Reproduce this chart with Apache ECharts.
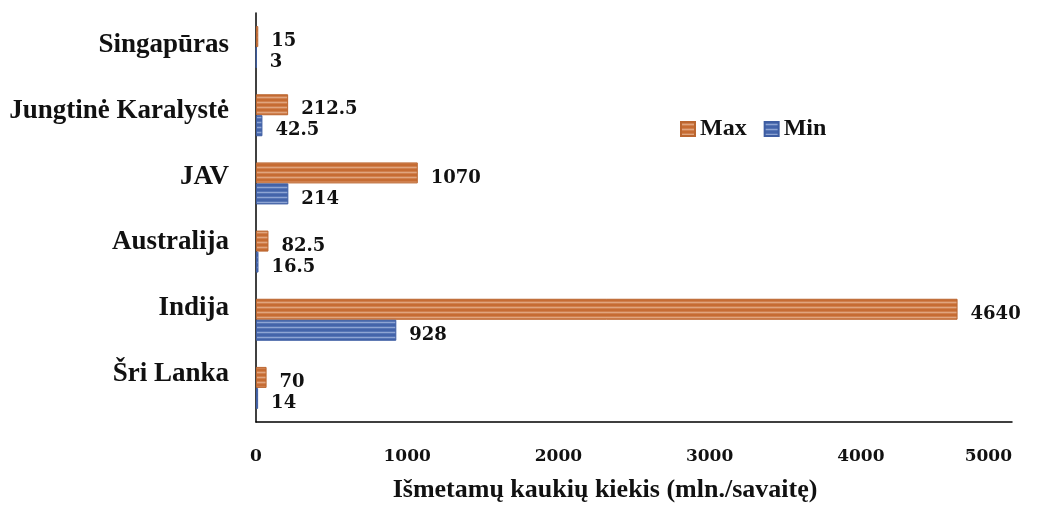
<!DOCTYPE html>
<html>
<head>
<meta charset="utf-8">
<script src="https://cdn.jsdelivr.net/npm/echarts@6/dist/echarts.min.js"></script>
<style>
  html, body { margin: 0; padding: 0; background: #fff; }
  #chart { width: 1042px; height: 509px; }
</style>
</head>
<body>
<div id="chart"></div>
<script>
// Weekly discarded masks by country (millions per week)
const countries = ['Singapūras', 'Jungtinė Karalystė', 'JAV', 'Australija', 'Indija', 'Šri Lanka'];
const maxValues = [15, 212.5, 1070, 82.5, 4640, 70];
const minValues = [3, 42.5, 214, 16.5, 928, 14];
const seriesNames = ['Max', 'Min'];
const axisTitle = 'Išmetamų kaukių kiekis (mln./savaitę)';

// Softly striped fill used for the bars and legend swatches
function stripes(base, mid, light) {
  const c = document.createElement('canvas');
  c.width = 4; c.height = 5;
  const ctx = c.getContext('2d');
  ctx.fillStyle = base;
  ctx.fillRect(0, 0, 4, 5);
  ctx.fillStyle = mid;
  ctx.fillRect(0, 1, 4, 1);
  ctx.fillRect(0, 3, 4, 1);
  ctx.fillStyle = light;
  ctx.fillRect(0, 2, 4, 1);
  return { image: c, repeat: 'repeat' };
}
const orangeFill = stripes('#C66C33', '#D0804E', '#E0A57E');
const blueFill = stripes('#4464AA', '#5675B5', '#8EA4D3');

const valueLabel = {
  show: true,
  position: 'right',
  distance: 13,
  offset: [0, 5],
  fontFamily: 'DejaVu Serif',
  fontWeight: 'bold',
  fontSize: 18,
  color: '#111'
};

const chart = echarts.init(document.getElementById('chart'), null, { renderer: 'canvas' });
chart.setOption({
  backgroundColor: '#fff',
  animation: false,
  legend: {
    data: seriesNames,
    left: 680,
    top: 117,
    padding: 0,
    itemWidth: 14,
    itemHeight: 14,
    itemGap: 17,
    icon: 'rect',
    textStyle: { fontFamily: 'Liberation Serif', fontWeight: 'bold', fontSize: 24, color: '#111' }
  },
  grid: [
    { left: 256, right: 30, top: 13, height: 409 },
    { left: 256, right: 30, top: 12, height: 395 }
  ],
  xAxis: [
    {
      type: 'value',
      gridIndex: 0,
      min: 0,
      max: 5000,
      interval: 1000,
      splitLine: { show: false },
      axisLine: { show: true, lineStyle: { color: '#000', width: 1.5 } },
      axisTick: { show: false },
      axisLabel: {
        margin: 26,
        alignMaxLabel: 'right',
        formatter: function (v) { return String(v); },
        fontFamily: 'DejaVu Serif',
        fontWeight: 'bold',
        fontSize: 17,
        color: '#111'
      },
      name: axisTitle,
      nameLocation: 'middle',
      nameGap: 55,
      nameTextStyle: {
        fontFamily: 'Liberation Serif',
        fontWeight: 'bold',
        fontSize: 26,
        color: '#111',
        padding: [0, 58, 0, 0]
      }
    },
    { type: 'value', gridIndex: 1, show: false }
  ],
  yAxis: [
    {
      type: 'category',
      gridIndex: 0,
      data: countries,
      inverse: true,
      axisLine: { show: true, lineStyle: { color: '#000', width: 1.5 } },
      axisTick: { show: false },
      axisLabel: { show: false }
    },
    {
      type: 'category',
      gridIndex: 1,
      data: countries,
      inverse: true,
      axisLine: { show: false },
      axisTick: { show: false },
      axisLabel: {
        margin: 27,
        fontFamily: 'Liberation Serif',
        fontWeight: 'bold',
        fontSize: 27,
        color: '#111'
      }
    }
  ],
  series: [
    {
      name: seriesNames[0],
      type: 'bar',
      xAxisIndex: 0,
      yAxisIndex: 0,
      data: maxValues,
      barWidth: 21,
      barGap: '0%',
      itemStyle: { color: orangeFill, borderColor: '#BB6630', borderWidth: 1 },
      label: valueLabel
    },
    {
      name: seriesNames[1],
      type: 'bar',
      xAxisIndex: 0,
      yAxisIndex: 0,
      data: minValues,
      barWidth: 21,
      barGap: '0%',
      itemStyle: { color: blueFill, borderColor: '#3E5DA2', borderWidth: 1 },
      label: valueLabel
    }
  ]
});
</script>
</body>
</html>
